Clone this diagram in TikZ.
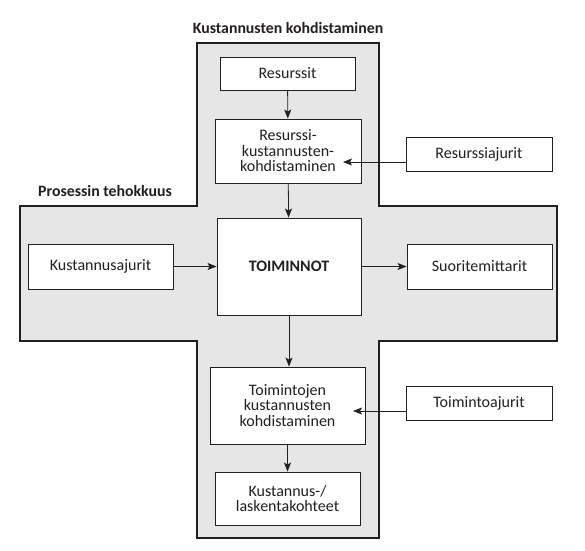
\documentclass[tikz,border=0pt]{standalone}
\usepackage{fontspec}
\setmainfont{Carlito}
\usepackage{xcolor}
\usetikzlibrary{arrows.meta}

\definecolor{crossgray}{RGB}{230,230,230}
\definecolor{inkgray}{RGB}{35,31,32}

\begin{document}
\begin{tikzpicture}[x=1pt, y=-1pt,
    boxnode/.style={rectangle, draw=inkgray, fill=white, line width=0.9pt, inner sep=0pt, align=center, text=inkgray, font=\fontsize{16}{15.5}\selectfont},
    titlenode/.style={text=inkgray, font=\bfseries\fontsize{15.8}{15.5}\selectfont},
    arrow/.style={-{Stealth[length=9pt, width=7pt, inset=2pt]}, draw=inkgray, line width=0.8pt}]
    \useasboundingbox (0,0) rectangle (585,550);

    % risti taustalla
    \draw[fill=crossgray, draw=inkgray, line width=2.4pt, line join=miter]
        (197,43) -- (379,43) -- (379,206) -- (557,206) -- (557,341) -- (379,341)
        -- (379,538) -- (197,538) -- (197,341) -- (20,341) -- (20,206) -- (197,206) -- cycle;

    \node[titlenode] (T1) at (288,28) {Kustannusten kohdistaminen};
    \node[titlenode] (T2) at (105,191) {Prosessin tehokkuus};

    \node[boxnode, minimum width=135pt, minimum height=33pt] (R) at (287.5,73.5) {Resurssit};
    \node[boxnode, minimum width=146pt, minimum height=64pt] (RK) at (288,151) {Resurssi-\\kustannusten-\\kohdistaminen};
    \node[boxnode, minimum width=146pt, minimum height=34pt] (RA) at (479,154) {Resurssiajurit};
    \node[boxnode, minimum width=144pt, minimum height=97pt, font=\bfseries\fontsize{16}{15.5}\selectfont] (TO) at (289,266.5) {TOIMINNOT};
    \node[boxnode, minimum width=145pt, minimum height=45pt] (KA) at (100.5,266.5) {Kustannusajurit};
    \node[boxnode, minimum width=145pt, minimum height=45pt] (SM) at (479.5,266.5) {Suoritemittarit};
    \node[boxnode, minimum width=155pt, minimum height=77pt] (TK) at (287.5,405.5) {Toimintojen\\kustannusten\\kohdistaminen};
    \node[boxnode, minimum width=146pt, minimum height=34pt] (TA) at (479,403) {Toimintoajurit};
    \node[boxnode, minimum width=145pt, minimum height=53pt] (KL) at (287.5,498.5) {Kustannus-/\\laskentakohteet};

    \coordinate (RKin) at (343,162);
    \coordinate (TKin) at (353,411);

    \draw[arrow] (R) -- (RK);
    \draw[arrow] (RK) -- (TO);
    \draw[arrow] (RA.west |- RKin) -- (RKin);
    \draw[arrow] (KA) -- (TO);
    \draw[arrow] (TO) -- (SM);
    \draw[arrow] (TO) -- (TO |- TK.north);
    \draw[arrow] (TA.west |- TKin) -- (TKin);
    \draw[arrow] (TK.south -| KL) -- (KL);

\end{tikzpicture}
\end{document}
